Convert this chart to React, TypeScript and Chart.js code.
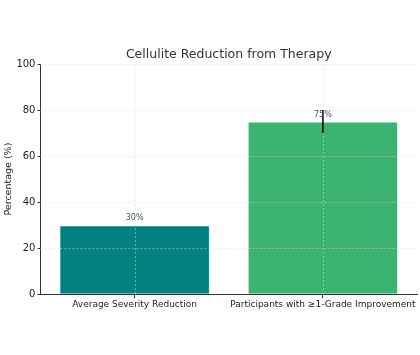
import React, { useEffect, useRef } from "react";
import { Chart, registerables } from "chart.js";
Chart.register(...registerables);

const titleText = "Cellulite Reduction from Therapy";
const categories = ["Average Severity Reduction", "Participants with ≥1-Grade Improvement"];
const values = [30, 75];
const errors = [0, 5];
const valueLabels = ["30%", "75%"];
const barColors = ["#008080", "#3cb371"];
const yTicks = [0, 20, 40, 60, 80, 100];

const FONT = "'DejaVu Sans', sans-serif";

const overlay = {
  id: "overlay",
  afterDatasetsDraw(chart: any) {
    const ctx = chart.ctx;
    const meta = chart.getDatasetMeta(0);
    const y = chart.scales.y;
    const area = chart.chartArea;
    ctx.save();
    ctx.strokeStyle = "rgba(215,215,215,0.5)";
    ctx.lineWidth = 1;
    ctx.setLineDash([2, 2]);
    yTicks.forEach((v) => {
      if (v === 0) return;
      const py = Math.round(y.getPixelForValue(v)) + 0.5;
      ctx.beginPath();
      ctx.moveTo(area.left, py);
      ctx.lineTo(area.right, py);
      ctx.stroke();
    });
    meta.data.forEach((bar: any) => {
      const px = Math.round(bar.x) + 0.5;
      ctx.beginPath();
      ctx.moveTo(px, area.top);
      ctx.lineTo(px, area.bottom);
      ctx.stroke();
    });
    ctx.setLineDash([]);
    meta.data.forEach((bar: any, i: number) => {
      const err = errors[i];
      if (err > 0) {
        ctx.strokeStyle = "#000";
        ctx.lineWidth = 1.5;
        ctx.beginPath();
        ctx.moveTo(bar.x, y.getPixelForValue(values[i] + err));
        ctx.lineTo(bar.x, y.getPixelForValue(values[i] - err));
        ctx.stroke();
      }
      ctx.fillStyle = "#4a5a5a";
      ctx.font = `8px ${FONT}`;
      ctx.textAlign = "center";
      ctx.textBaseline = "bottom";
      ctx.fillText(valueLabels[i], bar.x, y.getPixelForValue(values[i]) - 3);
    });
    ctx.fillStyle = "#333";
    ctx.font = `12.5px ${FONT}`;
    ctx.textAlign = "center";
    ctx.textBaseline = "middle";
    ctx.fillText(titleText, (area.left + area.right) / 2, area.top - 9);
    ctx.restore();
  },
};

export default function App() {
  const ref = useRef<HTMLCanvasElement>(null);
  useEffect(() => {
    document.body.style.margin = "0";
    const chart = new Chart(ref.current!, {
      type: "bar",
      data: {
        labels: categories,
        datasets: [
          {
            data: values,
            backgroundColor: barColors,
            borderColor: "rgba(255,255,255,0.5)",
            borderWidth: 1,
            categoryPercentage: 1,
            barPercentage: 0.8,
          },
        ],
      },
      options: {
        animation: false,
        responsive: false,
        layout: { padding: { top: 64, right: 3, bottom: 44, left: 3 } },
        plugins: {
          legend: { display: false },
          tooltip: { enabled: false },
          title: { display: false },
        },
        scales: {
          x: {
            grid: {
              display: true,
              drawOnChartArea: false,
              tickColor: "#333",
              tickLength: 4,
              offset: false,
            },
            border: { display: true, color: "#333", width: 1 },
            ticks: { color: "#222", font: { family: FONT, size: 9 }, padding: 1, maxRotation: 0, autoSkip: false },
          },
          y: {
            min: 0,
            max: 100,
            afterBuildTicks: (s: any) => {
              s.ticks = yTicks.map((v) => ({ value: v }));
            },
            grid: { drawOnChartArea: false, tickColor: "#333", tickLength: 3 },
            border: { display: true, color: "#333", width: 1 },
            ticks: { color: "#222", font: { family: FONT, size: 10 }, padding: 2 },
            title: {
              display: true,
              text: "Percentage (%)",
              color: "#222",
              font: { family: FONT, size: 9.5 },
              padding: { top: 0, bottom: 0 },
            },
          },
        },
      },
      plugins: [overlay],
    });
    return () => chart.destroy();
  }, []);
  return <canvas ref={ref} width={420} height={355} style={{ display: "block" }} />;
}
